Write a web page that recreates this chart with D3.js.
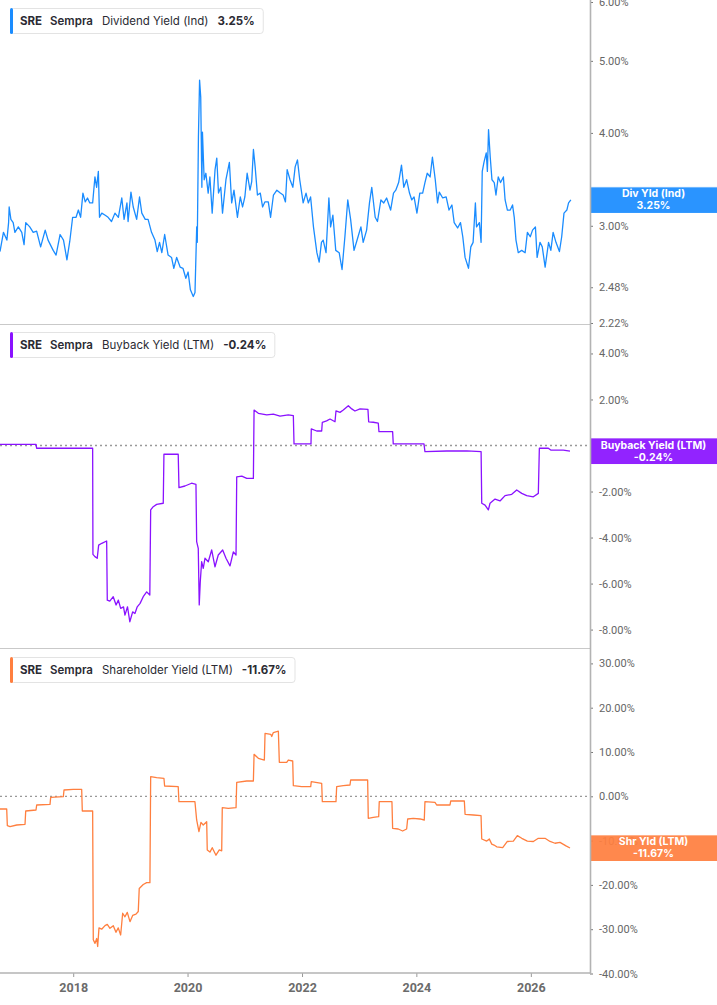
<!DOCTYPE html>
<html>
<head>
<meta charset="utf-8">
<script src="https://cdn.jsdelivr.net/npm/d3@7"></script>
<style>
  body { margin: 0; background: #fff; }
  svg { display: block; font-family: Inter, Roboto, sans-serif; }
</style>
</head>
<body>
<svg id="chart" width="717" height="1005"></svg>
<script>
// dates are decimal years, values are percent
var divDates = [2016.72, 2016.78, 2016.84, 2016.87, 2016.88, 2016.91, 2016.95, 2016.98, 2017.04, 2017.10,
  2017.14, 2017.17, 2017.24, 2017.30, 2017.36, 2017.43, 2017.51, 2017.56, 2017.65, 2017.70,
  2017.77, 2017.83, 2017.89, 2017.94, 2017.99, 2018.05, 2018.09, 2018.13, 2018.17, 2018.21,
  2018.25, 2018.29, 2018.34, 2018.38, 2018.41, 2018.44, 2018.46, 2018.50, 2018.56, 2018.61,
  2018.67, 2018.73, 2018.79, 2018.85, 2018.89, 2018.94, 2018.96, 2019.01, 2019.05, 2019.11,
  2019.16, 2019.20, 2019.26, 2019.31, 2019.37, 2019.43, 2019.47, 2019.51, 2019.55, 2019.60,
  2019.66, 2019.72, 2019.76, 2019.81, 2019.87, 2019.92, 2019.97, 2020.01, 2020.05, 2020.10,
  2020.13, 2020.16, 2020.17, 2020.19, 2020.21, 2020.23, 2020.25, 2020.26, 2020.29, 2020.32,
  2020.36, 2020.39, 2020.43, 2020.48, 2020.51, 2020.54, 2020.58, 2020.61, 2020.67, 2020.73,
  2020.77, 2020.81, 2020.87, 2020.92, 2020.96, 2021.00, 2021.04, 2021.09, 2021.12, 2021.15,
  2021.18, 2021.22, 2021.27, 2021.31, 2021.35, 2021.41, 2021.45, 2021.50, 2021.56, 2021.62,
  2021.67, 2021.71, 2021.74, 2021.79, 2021.84, 2021.88, 2021.92, 2021.96, 2022.02, 2022.07,
  2022.11, 2022.15, 2022.20, 2022.26, 2022.30, 2022.34, 2022.37, 2022.42, 2022.47, 2022.50,
  2022.54, 2022.59, 2022.65, 2022.70, 2022.75, 2022.80, 2022.85, 2022.91, 2022.98, 2023.03,
  2023.07, 2023.13, 2023.18, 2023.22, 2023.28, 2023.32, 2023.38, 2023.43, 2023.48, 2023.55,
  2023.60, 2023.64, 2023.69, 2023.74, 2023.78, 2023.83, 2023.88, 2023.92, 2023.96, 2024.01,
  2024.06, 2024.11, 2024.15, 2024.19, 2024.24, 2024.28, 2024.33, 2024.37, 2024.40, 2024.46,
  2024.52, 2024.57, 2024.62, 2024.66, 2024.72, 2024.77, 2024.81, 2024.85, 2024.91, 2024.95,
  2024.99, 2025.03, 2025.05, 2025.10, 2025.13, 2025.15, 2025.18, 2025.22, 2025.24, 2025.26,
  2025.29, 2025.32, 2025.36, 2025.39, 2025.43, 2025.47, 2025.52, 2025.55, 2025.59, 2025.64,
  2025.68, 2025.71, 2025.74, 2025.78, 2025.84, 2025.90, 2025.94, 2025.99, 2026.03, 2026.08,
  2026.11, 2026.16, 2026.20, 2026.25, 2026.31, 2026.35, 2026.39, 2026.44, 2026.50, 2026.54,
  2026.58, 2026.63, 2026.66, 2026.70];
var divValues = [2.77, 2.94, 2.87, 3.03, 3.18, 3.06, 3.03, 2.94, 2.99, 2.94,
  2.83, 3.03, 2.99, 2.94, 2.95, 2.81, 2.96, 2.87, 2.78, 2.74,
  2.92, 2.87, 2.70, 2.86, 3.08, 3.08, 3.15, 3.08, 3.32, 3.23,
  3.27, 3.22, 3.22, 3.49, 3.38, 3.55, 3.08, 3.12, 3.10, 3.08,
  3.04, 3.12, 3.08, 3.27, 3.06, 3.22, 3.04, 3.33, 3.18, 3.06,
  3.28, 3.12, 3.06, 3.06, 2.94, 2.87, 2.77, 2.85, 2.76, 2.92,
  2.74, 2.72, 2.63, 2.72, 2.64, 2.63, 2.55, 2.60, 2.46, 2.41,
  2.44, 2.99, 2.85, 3.95, 4.71, 4.47, 3.38, 4.01, 3.46, 3.53,
  3.32, 3.49, 3.12, 3.57, 3.70, 3.32, 3.38, 3.12, 3.46, 3.65,
  3.22, 3.35, 3.08, 3.28, 3.18, 3.28, 3.53, 3.35, 3.44, 3.80,
  3.60, 3.30, 3.32, 3.18, 3.23, 3.23, 3.08, 3.30, 3.35, 3.32,
  3.30, 3.23, 3.57, 3.46, 3.38, 3.60, 3.68, 3.46, 3.22, 3.32,
  3.22, 3.28, 2.99, 2.76, 2.68, 2.85, 2.87, 2.76, 3.27, 2.99,
  3.10, 2.78, 2.76, 2.62, 2.90, 3.25, 3.06, 2.78, 2.90, 2.99,
  2.85, 2.96, 3.22, 3.38, 3.08, 3.04, 3.25, 3.22, 3.27, 3.15,
  3.32, 3.35, 3.43, 3.62, 3.38, 3.46, 3.32, 3.25, 3.28, 3.12,
  3.32, 3.32, 3.43, 3.53, 3.49, 3.71, 3.46, 3.22, 3.33, 3.27,
  3.28, 3.15, 3.20, 3.03, 2.98, 3.03, 2.90, 2.72, 2.63, 2.81,
  2.85, 3.22, 2.99, 3.03, 2.85, 3.55, 3.65, 3.76, 3.55, 4.04,
  3.71, 3.46, 3.43, 3.30, 3.49, 3.43, 3.49, 3.25, 3.15, 3.15,
  3.20, 3.08, 2.87, 2.76, 2.78, 2.76, 2.94, 2.90, 2.96, 2.99,
  2.72, 2.85, 2.81, 2.64, 2.85, 2.78, 2.94, 2.85, 2.77, 2.90,
  3.12, 3.15, 3.22, 3.25];

var buyDates = [2016.72, 2017.35, 2017.36, 2018.34, 2018.345, 2018.38, 2018.42, 2018.445, 2018.50, 2018.585,
  2018.596, 2018.64, 2018.70, 2018.75, 2018.79, 2018.83, 2018.88, 2018.905, 2018.95, 2018.99,
  2019.04, 2019.08, 2019.12, 2019.17, 2019.225, 2019.285, 2019.34, 2019.355, 2019.40, 2019.46,
  2019.575, 2019.587, 2019.837, 2019.85, 2019.954, 2020.07, 2020.147, 2020.159, 2020.187, 2020.204,
  2020.222, 2020.246, 2020.274, 2020.304, 2020.362, 2020.421, 2020.479, 2020.536, 2020.613, 2020.671,
  2020.741, 2020.799, 2020.846, 2020.858, 2020.946, 2021.033, 2021.149, 2021.161, 2021.236, 2021.383,
  2021.498, 2021.615, 2021.76, 2021.848, 2021.86, 2022.157, 2022.162, 2022.257, 2022.344, 2022.355,
  2022.43, 2022.49, 2022.577, 2022.594, 2022.664, 2022.722, 2022.81, 2022.87, 2022.926, 2023.014,
  2023.153, 2023.166, 2023.246, 2023.334, 2023.346, 2023.585, 2023.596, 2024.133, 2024.15, 2024.53,
  2024.88, 2025.13, 2025.141, 2025.199, 2025.257, 2025.286, 2025.374, 2025.461, 2025.549, 2025.666,
  2025.753, 2025.841, 2025.928, 2026.044, 2026.131, 2026.149, 2026.306, 2026.348, 2026.568, 2026.685];
var buyValues = [0.05, 0.05, -0.12, -0.12, -4.73, -4.83, -4.90, -4.33, -4.25, -4.15,
  -6.72, -6.76, -6.57, -6.93, -6.72, -7.08, -7.01, -7.37, -7.01, -7.66,
  -7.23, -7.30, -7.01, -6.86, -6.57, -6.36, -6.50, -2.80, -2.66, -2.56,
  -2.51, -0.38, -0.38, -1.83, -1.76, -1.64, -1.69, -4.18, -4.47, -6.93,
  -5.92, -5.05, -5.34, -4.90, -5.05, -4.54, -5.27, -4.76, -4.54, -4.90,
  -5.23, -4.62, -4.76, -1.36, -1.33, -1.43, -1.43, 1.54, 1.40, 1.33,
  1.36, 1.28, 1.33, 1.30, 0.07, 0.07, 0.72, 0.63, 0.63, 1.01,
  1.07, 1.15, 1.03, 1.50, 1.44, 1.54, 1.73, 1.59, 1.50, 1.59,
  1.57, 1.03, 1.01, 0.97, 0.60, 0.60, 0.07, 0.07, -0.27, -0.24,
  -0.23, -0.27, -2.51, -2.59, -2.80, -2.51, -2.33, -2.41, -2.18, -2.12,
  -1.93, -2.08, -2.18, -2.23, -2.08, -0.12, -0.12, -0.20, -0.20, -0.24];

var shrDates = [2016.72, 2016.837, 2016.848, 2016.895, 2017.012, 2017.157, 2017.169, 2017.349, 2017.361, 2017.594,
  2017.606, 2017.827, 2017.839, 2018.001, 2018.148, 2018.159, 2018.34, 2018.351, 2018.381, 2018.411,
  2018.428, 2018.451, 2018.498, 2018.556, 2018.596, 2018.643, 2018.701, 2018.748, 2018.788, 2018.83,
  2018.865, 2018.905, 2018.946, 2018.993, 2019.04, 2019.098, 2019.138, 2019.155, 2019.225, 2019.285,
  2019.342, 2019.355, 2019.459, 2019.587, 2019.599, 2019.837, 2019.849, 2020.129, 2020.159, 2020.199,
  2020.234, 2020.274, 2020.334, 2020.344, 2020.391, 2020.431, 2020.496, 2020.554, 2020.596, 2020.606,
  2020.711, 2020.846, 2020.858, 2021.033, 2021.149, 2021.161, 2021.236, 2021.341, 2021.353, 2021.453,
  2021.47, 2021.498, 2021.586, 2021.603, 2021.732, 2021.76, 2021.837, 2021.848, 2021.994, 2022.152,
  2022.162, 2022.344, 2022.355, 2022.594, 2022.606, 2022.722, 2022.839, 2022.851, 2023.148, 2023.159,
  2023.246, 2023.341, 2023.351, 2023.573, 2023.585, 2023.683, 2023.76, 2023.83, 2023.848, 2023.946,
  2024.063, 2024.138, 2024.15, 2024.325, 2024.355, 2024.587, 2024.6, 2024.837, 2024.85, 2024.995,
  2025.129, 2025.141, 2025.229, 2025.274, 2025.316, 2025.356, 2025.403, 2025.508, 2025.589, 2025.694,
  2025.764, 2025.841, 2025.939, 2026.044, 2026.131, 2026.248, 2026.336, 2026.423, 2026.51, 2026.615,
  2026.685];
var shrValues = [-2.87, -2.87, -6.63, -6.85, -6.48, -6.32, -3.32, -3.09, -1.96, -1.81,
  -0.23, -0.08, 1.42, 1.58, 1.58, -3.32, -3.32, -32.4, -33.2, -32.1,
  -33.9, -29.7, -30.0, -29.2, -28.9, -29.8, -29.2, -30.7, -29.7, -31.3,
  -26.4, -27.2, -26.2, -28.3, -26.9, -26.6, -26.0, -20.8, -19.9, -19.5,
  -19.5, 4.42, 4.20, 4.06, 2.33, 2.17, -1.22, -1.22, -5.35, -7.99,
  -5.87, -6.48, -5.73, -12.1, -12.6, -11.6, -13.3, -12.1, -12.3, -2.57,
  -2.71, -2.57, 3.16, 3.45, 3.45, 9.48, 8.58, 8.19, 14.2, 14.0,
  13.5, 14.4, 14.7, 7.67, 7.67, 8.19, 7.97, 2.39, 2.17, 2.17,
  3.30, 2.93, -1.22, -1.22, 2.17, 2.39, 2.55, 3.68, 3.68, -4.97,
  -4.74, -4.60, -1.22, -1.22, -7.22, -7.38, -7.83, -7.38, -5.12, -4.97,
  -5.12, -5.35, -1.22, -1.35, -1.96, -1.96, -1.06, -1.06, -4.06, -4.22,
  -4.37, -9.64, -10.1, -9.64, -10.8, -11.0, -11.4, -11.6, -10.2, -10.1,
  -8.89, -9.48, -10.1, -10.2, -9.48, -9.48, -10.2, -10.6, -10.4, -11.2,
  -11.67];

var divTicks = [6, 5, 4, 3, 2.48, 2.22];
var buyTicks = [4, 2, -2, -4, -6, -8];
var shrTicks = [30, 20, 10, 0, -10, -20, -30, -40];
var yearTicks = [2018, 2020, 2022, 2024, 2026];

var legendNames = ["Dividend Yield (Ind)", "Buyback Yield (LTM)", "Shareholder Yield (LTM)"];
var tagNames = ["Div Yld (Ind)", "Buyback Yield (LTM)", "Shr Yld (LTM)"];
var colors = ["#1a8cff", "#8a12ff", "#ff7f3f"];

function toDate(t) {
  var y = Math.floor(t);
  var s = new Date(y, 0, 1), e = new Date(y + 1, 0, 1);
  return new Date(+s + (t - y) * (e - s));
}

var svg = d3.select("#chart");
var axisX = 590;
var bottomY = 973;

var x = d3.scaleTime()
  .domain([toDate(2016.72), toDate(2027.035)])
  .range([0, axisX]);

var panels = [
  { dates: divDates, values: divValues, ticks: divTicks, top: 0,
    y: d3.scaleLog().domain([2.22, 6.0]).range([323, 2]), zero: false },
  { dates: buyDates, values: buyValues, ticks: buyTicks, top: 324,
    y: d3.scaleLinear().domain([-8.8, 5.28]).range([648, 324]), zero: true },
  { dates: shrDates, values: shrValues, ticks: shrTicks, top: 649,
    y: d3.scaleLinear().domain([-40, 33.25]).range([973.5, 649]), zero: true }
];

// separators between panels
svg.selectAll("line.sep")
  .data([324, 648])
  .enter().append("line")
  .attr("x1", 0).attr("x2", axisX)
  .attr("y1", function(d) { return d + 0.5; })
  .attr("y2", function(d) { return d + 0.5; })
  .attr("stroke", "#c9c9c9").attr("stroke-width", 1);

panels.forEach(function(p, i) {
  var g = svg.append("g");
  var pts = p.dates.map(function(d, k) { return { date: toDate(d), v: p.values[k] }; });

  if (p.zero) {
    g.append("line")
      .attr("x1", 0).attr("x2", axisX)
      .attr("y1", p.y(0)).attr("y2", p.y(0))
      .attr("stroke", "#999").attr("stroke-width", 1.3)
      .attr("stroke-dasharray", "2,3");
  }

  var line = d3.line()
    .x(function(d) { return x(d.date); })
    .y(function(d) { return p.y(d.v); });

  g.append("path")
    .datum(pts)
    .attr("fill", "none")
    .attr("stroke", colors[i])
    .attr("stroke-width", 1.3)
    .attr("stroke-linejoin", "round")
    .attr("d", line);

  // right axis
  var ax = g.append("g")
    .attr("transform", "translate(" + axisX + ",0)")
    .call(d3.axisRight(p.y)
      .tickValues(p.ticks)
      .tickSize(3)
      .tickPadding(6)
      .tickFormat(function(d) { return d.toFixed(2) + "%"; }));
  ax.select(".domain").remove();
  ax.selectAll(".tick line").attr("stroke", "#777");
  ax.selectAll(".tick text")
    .attr("fill", "#666")
    .style("font-family", "Roboto, sans-serif")
    .style("font-size", "11px");

  // legend
  var last = p.values[p.values.length - 1];
  var lg = svg.append("g").attr("transform", "translate(10," + (p.top + 8) + ")");
  var box = lg.append("rect")
    .attr("x", 0.5).attr("y", 0.5).attr("height", 25).attr("rx", 3)
    .attr("fill", "#fff").attr("stroke", "#e3e3e3");
  lg.append("rect")
    .attr("x", 0).attr("y", 0).attr("width", 3).attr("height", 26).attr("rx", 1.5)
    .attr("fill", colors[i]);
  var txt = lg.append("text")
    .attr("x", 10).attr("y", 17)
    .attr("fill", "#2b2b33")
    .style("font-size", "11.5px");
  var parts = [["SRE", 700, 0], ["Sempra", 600, 8], [legendNames[i], 400, 9],
    [(last < 0 ? "-" : "") + Math.abs(last).toFixed(2) + "%", 700, 9]];
  parts.forEach(function(pt) {
    txt.append("tspan").attr("dx", pt[2]).attr("font-weight", pt[1]).text(pt[0]);
  });
  box.attr("width", txt.node().getComputedTextLength() + 10 + 26 + 8);

  // last value tag on the axis
  var cy = p.y(last);
  var tag = svg.append("g");
  tag.append("rect")
    .attr("x", axisX).attr("y", cy - 13)
    .attr("width", 717 - axisX).attr("height", 26)
    .attr("fill", colors[i]).attr("fill-opacity", 0.93);
  tag.append("line")
    .attr("x1", axisX).attr("x2", 717)
    .attr("y1", cy - 12.5).attr("y2", cy - 12.5)
    .attr("stroke", "#fff").attr("stroke-opacity", 0.35);
  tag.append("text")
    .attr("x", (axisX + 717) / 2).attr("y", cy - 2.5)
    .attr("text-anchor", "middle").attr("fill", "#fff")
    .attr("font-weight", 700).style("font-size", "10.5px")
    .text(tagNames[i]);
  tag.append("text")
    .attr("x", (axisX + 717) / 2).attr("y", cy + 9.5)
    .attr("text-anchor", "middle").attr("fill", "#fff")
    .attr("font-weight", 700).style("font-size", "10.5px")
    .text(last.toFixed(2) + "%");
});

// vertical axis line
svg.append("line")
  .attr("x1", axisX + 0.5).attr("x2", axisX + 0.5)
  .attr("y1", 0).attr("y2", bottomY + 1)
  .attr("stroke", "#b3b3b3").attr("stroke-width", 1.6);

// bottom time axis
var bx = svg.append("g")
  .attr("transform", "translate(0," + bottomY + ")")
  .call(d3.axisBottom(x)
    .tickValues(yearTicks.map(function(y) { return new Date(y, 0, 1); }))
    .tickSize(4)
    .tickPadding(6)
    .tickFormat(d3.timeFormat("%Y")));
bx.select(".domain").remove();
bx.append("line")
  .attr("x1", 0).attr("x2", axisX)
  .attr("y1", 0).attr("y2", 0)
  .attr("stroke", "#b3b3b3").attr("stroke-width", 1.6);
bx.selectAll(".tick line").attr("stroke", "#999");
bx.selectAll(".tick text")
  .attr("fill", "#6b6b6b")
  .attr("font-weight", 700)
  .style("font-family", "Roboto, sans-serif")
  .style("font-size", "12.5px");
</script>
</body>
</html>
